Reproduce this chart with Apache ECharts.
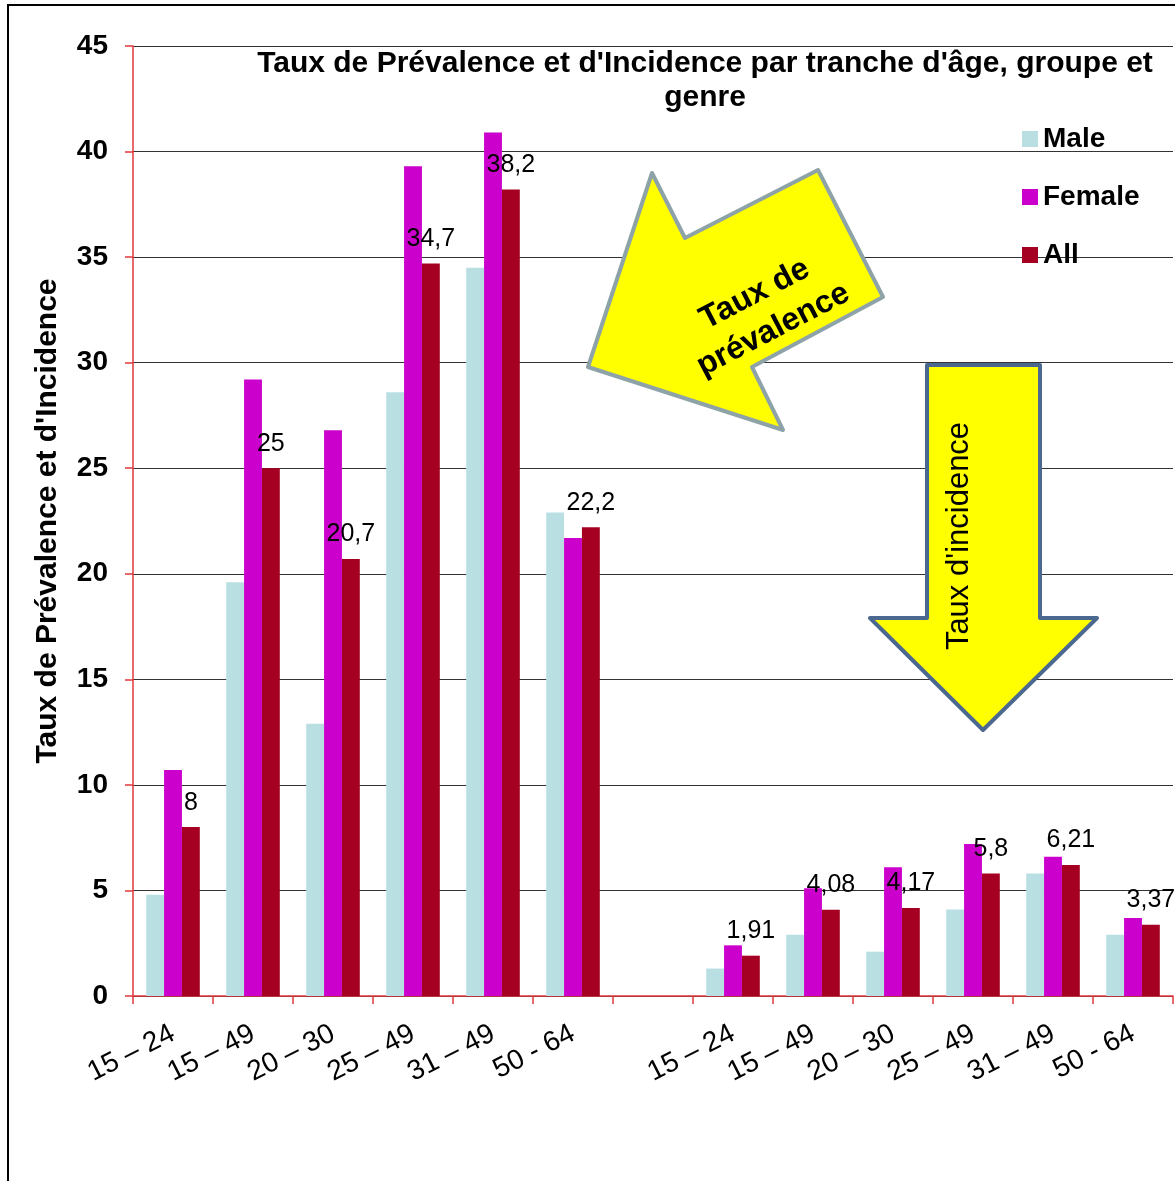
<!DOCTYPE html>
<html>
<head>
<meta charset="utf-8">
<script src="https://cdn.jsdelivr.net/npm/echarts@6/dist/echarts.min.js"></script>
<style>
  html, body { margin: 0; padding: 0; background: #ffffff; }
  #chart { width: 1175px; height: 1181px; }
</style>
</head>
<body>
<div id="chart"></div>
<script>
// Age bands used for both the prevalence block and the incidence block
const ageBands = ['15 – 24', '15 – 49', '20 – 30', '25 – 49', '31 – 49', '50 - 64'];

// Prevalence rates by sex
const prevalenceMale   = [4.8, 19.6, 12.9, 28.6, 34.5, 22.9];
const prevalenceFemale = [10.7, 29.2, 26.8, 39.3, 40.9, 21.7];
const prevalenceAll    = [8, 25, 20.7, 34.7, 38.2, 22.2];

// Incidence rates by sex
const incidenceMale   = [1.3, 2.9, 2.1, 4.1, 5.8, 2.9];
const incidenceFemale = [2.4, 5.1, 6.1, 7.2, 6.6, 3.7];
const incidenceAll    = [1.91, 4.08, 4.17, 5.8, 6.21, 3.37];

// Value axis range
const yMin = 0, yMax = 45, yStep = 5;

const seriesNames = ['Male', 'Female', 'All'];
const seriesColors = ['#b9dfe3', '#cc00cc', '#a50021'];

// Both blocks share one category axis, separated by an empty slot
const categories = [...ageBands, '', ...ageBands];
const joinBlocks = (a, b) => [...a, null, ...b];

const FONT = '"Liberation Sans", Arial, sans-serif';
const AXIS_RED = '#e0393e';

const chart = echarts.init(document.getElementById('chart'), null, { renderer: 'canvas' });

const seriesData = [
  joinBlocks(prevalenceMale, incidenceMale),
  joinBlocks(prevalenceFemale, incidenceFemale),
  joinBlocks(prevalenceAll, incidenceAll)
];

const series = seriesNames.map((name, i) => ({
  name,
  type: 'bar',
  data: seriesData[i],
  barGap: '0%',
  barCategoryGap: '33%',
  itemStyle: { color: seriesColors[i] },
  emphasis: { disabled: true },
  label: i === 2 ? {
    show: true,
    position: 'top',
    distance: 12,
    color: '#000',
    fontFamily: FONT,
    fontSize: 25,
    formatter: p => String(p.value).replace('.', ',')
  } : { show: false }
}));

const option = {
  animation: false,
  backgroundColor: '#ffffff',
  title: {
    text: "Taux de Prévalence et d'Incidence par tranche d'âge, groupe et\ngenre",
    left: 700,
    top: 42,
    textAlign: 'center',
    textStyle: {
      fontFamily: FONT,
      fontWeight: 'bold',
      fontSize: 30,
      lineHeight: 34,
      color: '#000'
    }
  },
  legend: {
    orient: 'vertical',
    left: 1022,
    top: 125,
    padding: 0,
    icon: 'rect',
    itemWidth: 16,
    itemHeight: 16,
    itemGap: 30,
    data: seriesNames,
    textStyle: {
      fontFamily: FONT,
      fontWeight: 'bold',
      fontSize: 28,
      lineHeight: 28,
      color: '#000'
    }
  },
  grid: {
    left: 133,
    right: 2,
    top: 46,
    bottom: 185,
    containLabel: false
  },
  xAxis: {
    type: 'category',
    data: categories,
    axisLine: { show: true, lineStyle: { color: AXIS_RED, width: 1.5 } },
    axisTick: { show: true, length: 8, lineStyle: { color: AXIS_RED, width: 1.5 } },
    axisLabel: {
      interval: 0,
      rotate: 27,
      margin: 36,
      color: '#000',
      fontFamily: FONT,
      fontSize: 28
    },
    splitLine: { show: false }
  },
  yAxis: {
    type: 'value',
    min: yMin,
    max: yMax,
    interval: yStep,
    name: "Taux de Prévalence et d'Incidence",
    nameLocation: 'middle',
    nameGap: 70,
    nameTextStyle: {
      fontFamily: FONT,
      fontWeight: 'bold',
      fontSize: 30,
      color: '#000'
    },
    axisLine: { show: true, lineStyle: { color: AXIS_RED, width: 1.5 } },
    axisTick: { show: true, length: 8, lineStyle: { color: AXIS_RED, width: 1.5 } },
    axisLabel: {
      margin: 25,
      color: '#000',
      fontFamily: FONT,
      fontWeight: 'bold',
      fontSize: 28
    },
    splitLine: { show: true, lineStyle: { color: '#333333', width: 1 } }
  },
  series,
  graphic: [
    // outer frame
    {
      type: 'rect',
      silent: true,
      z: 100,
      shape: { x: 8, y: 5, width: 1300, height: 1300 },
      style: { fill: 'none', stroke: '#000', lineWidth: 2 }
    },
    // callout arrow pointing to the prevalence block
    {
      type: 'polygon',
      silent: true,
      z: 50,
      shape: {
        points: [[588, 367], [652, 173], [685, 238], [818, 170], [883, 297], [752, 367], [783, 430]]
      },
      style: { fill: '#ffff00', stroke: '#8ea3a8', lineWidth: 4, lineJoin: 'round' }
    },
    {
      type: 'text',
      silent: true,
      z: 51,
      x: 764,
      y: 312,
      rotation: 0.48,
      style: {
        text: 'Taux de\nprévalence',
        fontFamily: FONT,
        fontWeight: 'bold',
        fontSize: 32,
        lineHeight: 40,
        align: 'center',
        verticalAlign: 'middle',
        fill: '#000'
      }
    },
    // callout arrow pointing down to the incidence block
    {
      type: 'polygon',
      silent: true,
      z: 50,
      shape: {
        points: [[927, 365], [1040, 365], [1040, 618], [1097, 618], [983, 730], [870, 618], [927, 618]]
      },
      style: { fill: '#ffff00', stroke: '#4a6890', lineWidth: 4, lineJoin: 'round' }
    },
    {
      type: 'text',
      silent: true,
      z: 51,
      x: 959,
      y: 536,
      rotation: Math.PI / 2,
      style: {
        text: "Taux d'incidence",
        fontFamily: FONT,
        fontSize: 31,
        align: 'center',
        verticalAlign: 'middle',
        fill: '#000'
      }
    }
  ]
};

chart.setOption(option);
</script>
</body>
</html>
